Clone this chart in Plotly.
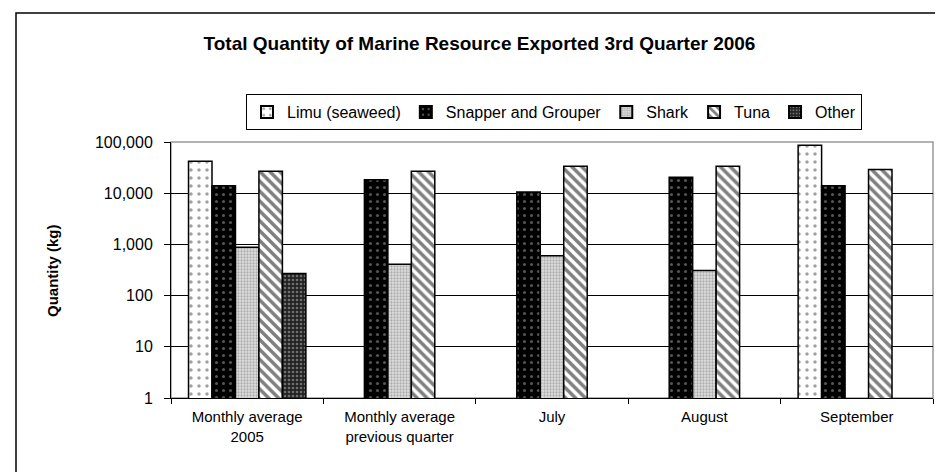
import plotly.graph_objects as go

categories = ["Monthly average<br>2005", "Monthly average<br>previous quarter", "July", "August", "September"]
series_names = ["Limu (seaweed)", "Snapper and Grouper", "Shark", "Tuna", "Other"]
limu = [42000, None, None, None, 86000]
snapper = [14000, 18400, 10500, 20400, 14000]
shark = [880, 410, 600, 310, None]
tuna = [26800, 26800, 33500, 33500, 29000]
other = [270, None, None, None, None]
y_tickvals = [1, 10, 100, 1000, 10000, 100000]
y_ticktext = ["1", "10", "100", "1,000", "10,000", "100,000"]

values = [limu, snapper, shark, tuna, other]
patterns = [
    dict(shape=".", bgcolor="white", fgcolor="#444444", size=8, solidity=0.15),
    dict(shape=".", bgcolor="black", fgcolor="#aaaaaa", size=7, solidity=0.15),
    dict(shape=".", bgcolor="#e0e0e0", fgcolor="#777777", size=3, solidity=0.45),
    dict(shape="\\", bgcolor="white", fgcolor="black", size=7, solidity=0.5),
    dict(shape=".", bgcolor="#222222", fgcolor="#bbbbbb", size=4, solidity=0.35),
]

FONT = "Liberation Sans, Arial, sans-serif"

fig = go.Figure()
for name, vals, pat in zip(series_names, values, patterns):
    fig.add_trace(go.Bar(
        name=name, x=categories, y=vals,
        marker=dict(color=pat["bgcolor"], pattern=pat, line=dict(color="black", width=1.5)),
    ))

# plot area: x 163-925, y 134-390
L, R, T, B = 163, 925, 134, 390
W, H = R - L, B - T

def px_x(x):
    return (x - L) / W

def px_y(y):
    return (B - y) / H

fig.update_layout(
    width=943, height=472,
    margin=dict(l=L, r=943 - R, t=T, b=472 - B),
    paper_bgcolor="white", plot_bgcolor="white",
    barmode="group", bargap=0.23, bargroupgap=0,
    font=dict(family=FONT, size=15, color="black"),
    title=dict(text="<b>Total Quantity of Marine Resource Exported 3rd Quarter 2006</b>",
               x=0.5, xanchor="center", y=1 - 35 / 472, yanchor="middle",
               font=dict(size=19, family=FONT, color="black")),
    showlegend=True,
    legend=dict(orientation="h", x=px_x(546), xanchor="center", y=px_y(86), yanchor="top",
                bordercolor="black", borderwidth=1, bgcolor="white",
                font=dict(size=16, family=FONT), itemsizing="constant",
                itemwidth=30, tracegroupgap=0),
    xaxis=dict(type="category", showline=True, linecolor="black", linewidth=1,
               ticks="outside", ticklen=5, tickcolor="black", tickson="boundaries",
               showgrid=False, tickfont=dict(size=15, family=FONT), ticklabelstandoff=5),
    yaxis=dict(type="log", range=[0, 5], tickvals=y_tickvals, ticktext=y_ticktext,
               showline=True, linecolor="black", linewidth=1,
               ticks="outside", ticklen=6, tickcolor="black",
               showgrid=True, gridcolor="black", gridwidth=1,
               ticklabelstandoff=8, tickfont=dict(size=16, family=FONT), zeroline=False),
    annotations=[dict(text="<b>Quantity (kg)</b>", textangle=-90, xref="paper", yref="paper",
                      x=px_x(44), y=px_y(263), xanchor="center", yanchor="middle",
                      showarrow=False, font=dict(size=15, family=FONT))],
    shapes=[
        dict(type="rect", xref="paper", yref="paper", x0=0, x1=1, y0=0, y1=1,
             line=dict(color="#999999", width=1.5), layer="below"),
        dict(type="rect", xref="paper", yref="paper",
             x0=px_x(8), x1=px_x(935), y0=px_y(465), y1=px_y(5),
             line=dict(color="black", width=1.5)),
    ],
)

fig.write_html("out.html")
